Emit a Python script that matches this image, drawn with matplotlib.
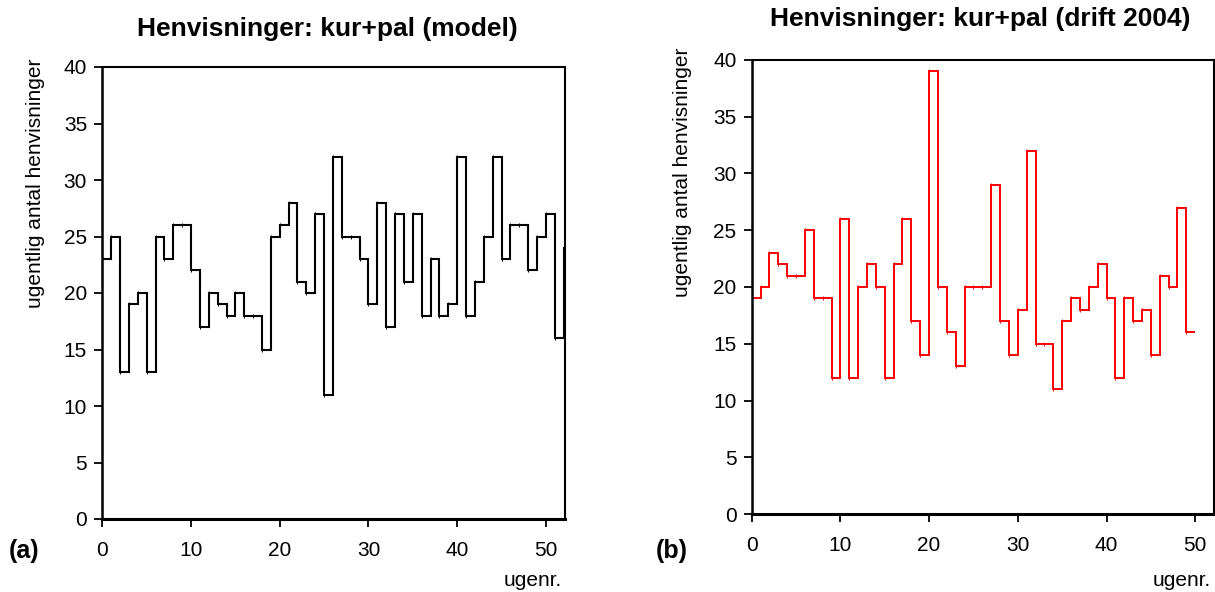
import numpy as np
import matplotlib
matplotlib.use("Agg")
import matplotlib.pyplot as plt

plt.rcParams['font.family'] = ['Liberation Sans', 'DejaVu Sans']

# weekly values (week 0 .. ) for each panel
model_values = [23, 25, 13, 19, 20, 13, 25, 23, 26, 26, 22, 17, 20, 19, 18, 20, 18, 18,
                15, 25, 26, 28, 21, 20, 27, 11, 32, 25, 25, 23, 19, 28, 17, 27, 21, 27,
                18, 23, 18, 19, 32, 18, 21, 25, 32, 23, 26, 26, 22, 25, 27, 16, 24]
drift_values = [19, 20, 23, 22, 21, 21, 25, 19, 19, 12, 26, 12, 20, 22, 20, 12, 22, 26,
                17, 14, 39, 20, 16, 13, 20, 20, 20, 29, 17, 14, 18, 32, 15, 15, 11, 17,
                19, 18, 20, 22, 19, 12, 19, 17, 18, 14, 21, 20, 27, 16]

titles = ["Henvisninger: kur+pal (model)", "Henvisninger: kur+pal (drift 2004)"]
panel_labels = ["(a)", "(b)"]
ylabel = "ugentlig antal henvisninger"
xlabel = "ugenr."
xticks = [0, 10, 20, 30, 40, 50]
yticks = [0, 5, 10, 15, 20, 25, 30, 35, 40]

W, H = 1215, 592
fig = plt.figure(figsize=(W / 100, H / 100), dpi=100)

def fx(px):
    return px / W

def fy(py):
    return 1 - py / H

ax_a = fig.add_axes([fx(102.3), fy(519), fx(565 - 102.3), (519 - 67) / H])
ax_b = fig.add_axes([fx(751.7), fy(514), fx(1214.3 - 751.7), (514 - 60) / H])

for ax, vals, color, lw in [(ax_a, model_values, 'black', 1.5), (ax_b, drift_values, '#ff0000', 1.4)]:
    vals = np.asarray(vals, dtype=float)
    edges = np.arange(len(vals) + 1)
    ax.stairs(vals, edges, baseline=None, color=color, linewidth=lw)
    ax.plot(np.arange(len(vals)), vals, linestyle='none', marker='|', markersize=3,
            markeredgewidth=0.7, color=color)
    ax.set_xlim(0, 52.15)
    ax.set_ylim(0, 40)
    ax.set_xticks(xticks)
    ax.set_yticks(yticks)
    ax.tick_params(axis='both', direction='out', length=6, width=1.3, labelsize=15,
                   top=False, right=False)
    ax.tick_params(axis='x', pad=10)
    ax.tick_params(axis='y', pad=5)
    ax.spines['left'].set_linewidth(1.8)
    ax.spines['bottom'].set_linewidth(2.2)
    ax.spines['top'].set_linewidth(1.5)
    ax.spines['right'].set_linewidth(1.5)

# titles
fig.text(fx(327), fy(29), titles[0], ha='center', va='center', fontsize=19, fontweight='bold')
fig.text(fx(980), fy(19), titles[1], ha='center', va='center', fontsize=19, fontweight='bold')

# y labels
fig.text(fx(36), fy(183), ylabel, rotation=90, ha='center', va='center', fontsize=15)
fig.text(fx(683), fy(172), ylabel, rotation=90, ha='center', va='center', fontsize=15)

# panel labels
fig.text(fx(24), fy(551), panel_labels[0], ha='center', va='center', fontsize=18, fontweight='bold')
fig.text(fx(672), fy(551), panel_labels[1], ha='center', va='center', fontsize=18, fontweight='bold')

# x labels
fig.text(fx(533), fy(580), xlabel, ha='center', va='center', fontsize=15)
fig.text(fx(1182), fy(580), xlabel, ha='center', va='center', fontsize=15)

fig.savefig("out.png", dpi=100)
